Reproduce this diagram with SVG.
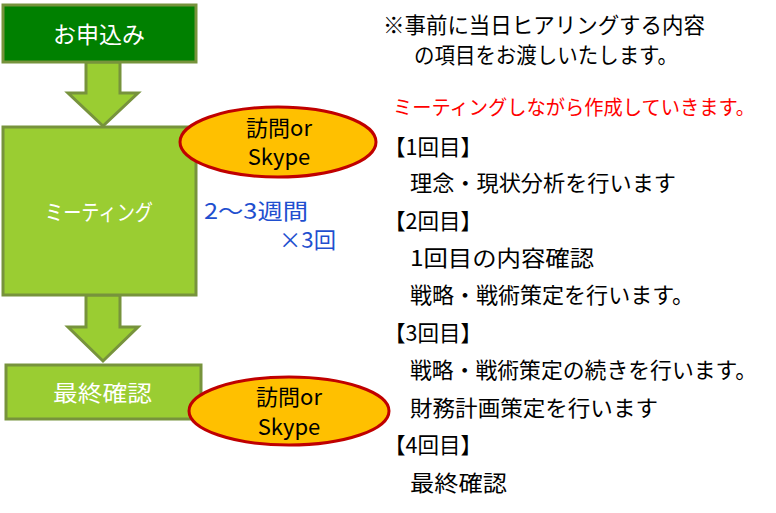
<svg xmlns="http://www.w3.org/2000/svg" width="776" height="513" viewBox="0 0 776 513">
<style>
.t{font-family:"Meiryo UI","Noto Sans CJK JP","Noto Sans",sans-serif;}
.box{stroke:#77933c;stroke-width:3;}
.arr{fill:#9acd32;stroke:#77933c;stroke-width:3;stroke-linejoin:miter;}
.ell{fill:#ffc000;stroke:#c00000;stroke-width:3;}
.w{fill:#ffffff;}
.k{fill:#000000;font-size:22px;}
.e{font-size:22px;fill:#000000;}
.b{font-size:22px;fill:#1f4fcf;}
</style>
<rect width="776" height="513" fill="#ffffff"/>
<g id="connectors">
<polygon class="arr" points="86,62 120,62 120,93 138,93 103,126 68,93 86,93"/>
<polygon class="arr" points="86,295 120,295 120,327 138,327 103,361 68,327 86,327"/>
</g>
<g id="n-apply">
<rect class="box" x="3" y="5" width="193" height="57" fill="#008000"/>
<text class="t w" x="99" y="43" font-size="23" text-anchor="middle">お申込み</text>
</g>
<g id="n-meeting">
<rect class="box" x="3" y="127" width="193" height="168" fill="#9acd32"/>
<text class="t w" x="45" y="220" font-size="22" textLength="108" lengthAdjust="spacingAndGlyphs">ミーティング</text>
</g>
<g id="n-final">
<rect class="box" x="6" y="365" width="195" height="54" fill="#9acd32"/>
<text class="t w" x="53" y="401" font-size="22" textLength="99" lengthAdjust="spacingAndGlyphs">最終確認</text>
</g>
<g id="n-visit1">
<ellipse class="ell" cx="278" cy="142" rx="98" ry="35"/>
<text class="t e" x="279" y="136" text-anchor="middle">訪問or</text>
<text class="t e" x="279" y="165" text-anchor="middle">Skype</text>
</g>
<g id="n-visit2">
<ellipse class="ell" cx="289" cy="411" rx="100" ry="34"/>
<text class="t e" x="289" y="405" text-anchor="middle">訪問or</text>
<text class="t e" x="289" y="435" text-anchor="middle">Skype</text>
</g>
<g id="n-period">
<text class="t b" x="204" y="219" textLength="104" lengthAdjust="spacingAndGlyphs">2～3週間</text>
<text class="t b" x="279" y="248" textLength="57" lengthAdjust="spacingAndGlyphs">×3回</text>
</g>
<g id="n-notes">
<text class="t k" x="383" y="33" textLength="322" lengthAdjust="spacingAndGlyphs">※事前に当日ヒアリングする内容</text>
<text class="t k" x="414" y="63" textLength="264" lengthAdjust="spacingAndGlyphs">の項目をお渡しいたします。</text>
<text class="t" x="393" y="115" font-size="20" fill="#ff0000" textLength="362" lengthAdjust="spacingAndGlyphs">ミーティングしながら作成していきます。</text>
<text class="t k" x="384" y="155" textLength="98" lengthAdjust="spacingAndGlyphs">【1回目】</text>
<text class="t k" x="410" y="191" textLength="266" lengthAdjust="spacingAndGlyphs">理念・現状分析を行います</text>
<text class="t k" x="384" y="229" textLength="98" lengthAdjust="spacingAndGlyphs">【2回目】</text>
<text class="t k" x="410" y="266" textLength="184" lengthAdjust="spacingAndGlyphs">1回目の内容確認</text>
<text class="t k" x="410" y="303" textLength="284" lengthAdjust="spacingAndGlyphs">戦略・戦術策定を行います。</text>
<text class="t k" x="384" y="341" textLength="98" lengthAdjust="spacingAndGlyphs">【3回目】</text>
<text class="t k" x="410" y="378" textLength="347" lengthAdjust="spacingAndGlyphs">戦略・戦術策定の続きを行います。</text>
<text class="t k" x="410" y="416" textLength="248" lengthAdjust="spacingAndGlyphs">財務計画策定を行います</text>
<text class="t k" x="384" y="453" textLength="98" lengthAdjust="spacingAndGlyphs">【4回目】</text>
<text class="t k" x="410" y="491" textLength="97" lengthAdjust="spacingAndGlyphs">最終確認</text>
</g>
</svg>
